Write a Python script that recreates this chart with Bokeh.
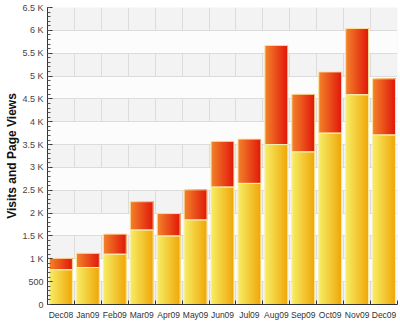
from bokeh.plotting import figure
from bokeh.models import Range1d, FixedTicker, ColumnDataSource
from bokeh.embed import file_html
from bokeh.resources import INLINE

months = ["Dec08", "Jan09", "Feb09", "Mar09", "Apr09", "May09", "Jun09",
          "Jul09", "Aug09", "Sep09", "Oct09", "Nov09", "Dec09"]
visits = [760, 810, 1100, 1630, 1500, 1850, 2570, 2650, 3500, 3340, 3750, 4590, 3710]
page_views = [1010, 1120, 1540, 2250, 1990, 2510, 3570, 3620, 5670, 4600, 5090, 6040, 4940]
y_ticks = [0, 500, 1000, 1500, 2000, 2500, 3000, 3500, 4000, 4500, 5000, 5500, 6000, 6500]
y_tick_labels = ["0", "500", "1 K", "1.5 K", "2 K", "2.5 K", "3 K", "3.5 K",
                 "4 K", "4.5 K", "5 K", "5.5 K", "6 K", "6.5 K"]

FONT = "Liberation Sans"
BAR_W = 0.85
N_STRIPS = 20


def lerp_hex(c1, c2, t):
    a = [int(c1[i:i + 2], 16) for i in (1, 3, 5)]
    b = [int(c2[i:i + 2], 16) for i in (1, 3, 5)]
    return "#%02x%02x%02x" % tuple(int(round(a[k] + (b[k] - a[k]) * t)) for k in range(3))


n = len(months)
p = figure(width=400, height=322, x_range=Range1d(0, n), y_range=Range1d(0, 6500),
           output_backend="svg", toolbar_location=None,
           min_border_left=47, min_border_right=3, min_border_top=7, min_border_bottom=16)
p.background_fill_color = "#f3f3f3"
p.border_fill_color = "white"
p.outline_line_color = None

# gradient strips: each strip runs from its start to the bar's right edge,
# later strips paint over earlier ones (no seams)
sw = BAR_W / N_STRIPS
lefts, rights, pv_top, pv_bot, v_top, pv_cols, v_cols = [], [], [], [], [], [], []
for i in range(n):
    left = i + 0.5 - BAR_W / 2
    for k in range(N_STRIPS):
        t = (k + 0.5) / N_STRIPS
        lefts.append(left + k * sw)
        rights.append(left + BAR_W)
        pv_top.append(page_views[i])
        pv_bot.append(visits[i])
        v_top.append(visits[i])
        pv_cols.append(lerp_hex("#f2842a", "#e2170b", t))
        v_cols.append(lerp_hex("#f6ee66", "#f0a608", t))

src = ColumnDataSource(dict(l=lefts, r=rights, pvt=pv_top, pvb=pv_bot, vt=v_top,
                            pc=pv_cols, vc=v_cols))
p.quad(left="l", right="r", top="pvt", bottom="pvb", fill_color="pc", line_color=None, source=src)
p.quad(left="l", right="r", top="vt", bottom=0, fill_color="vc", line_color=None, source=src)

# light outlines
centers = [i + 0.5 for i in range(n)]
osrc = ColumnDataSource(dict(x=centers, pv=page_views, v=visits))
p.vbar(x="x", width=BAR_W, top="pv", bottom="v", fill_color=None,
       line_color="#fbe0a0", line_width=1, source=osrc)
p.vbar(x="x", width=BAR_W, top="v", bottom=0, fill_color=None,
       line_color="#fbeeb0", line_width=1, source=osrc)

# x axis: labels at centers, ticks at boundaries
p.xaxis.ticker = FixedTicker(ticks=centers, minor_ticks=list(range(n + 1)))
p.xaxis.major_label_overrides = {c: m for c, m in zip(centers, months)}
p.xaxis.major_tick_in = 0
p.xaxis.major_tick_out = 0
p.xaxis.minor_tick_in = 4
p.xaxis.minor_tick_out = 0
p.xaxis.minor_tick_line_color = "#333333"
p.xaxis.axis_line_color = "#333333"
p.xaxis.major_label_text_font = FONT
p.xaxis.major_label_text_font_size = "8.5px"
p.xaxis.major_label_text_color = "#333333"
p.xaxis.major_label_standoff = 5

p.xgrid.ticker = FixedTicker(ticks=list(range(n + 1)))
p.xgrid.grid_line_color = "#dcdcdc"

# y axis
p.yaxis.ticker = FixedTicker(ticks=y_ticks,
                             minor_ticks=list(range(0, 6501, 100)))
p.yaxis.major_label_overrides = {t: l for t, l in zip(y_ticks, y_tick_labels)}
p.yaxis.major_tick_in = 5
p.yaxis.major_tick_out = 0
p.yaxis.minor_tick_in = 3
p.yaxis.minor_tick_out = 0
p.yaxis.major_tick_line_color = "#333333"
p.yaxis.minor_tick_line_color = "#555555"
p.yaxis.axis_line_color = "#333333"
p.yaxis.major_label_text_font = FONT
p.yaxis.major_label_text_font_size = "9px"
p.yaxis.major_label_text_color = "#444444"
p.yaxis.major_label_standoff = 4
p.yaxis.axis_label = "Visits and Page Views"
p.yaxis.axis_label_text_font = FONT
p.yaxis.axis_label_text_font_size = "12px"
p.yaxis.axis_label_text_font_style = "bold"
p.yaxis.axis_label_text_color = "#111111"
p.yaxis.axis_label_standoff = 0

p.ygrid.ticker = FixedTicker(ticks=y_ticks)
p.ygrid.grid_line_color = "#dcdcdc"
p.ygrid.band_fill_color = "#fcfcfc"
p.ygrid.band_fill_alpha = 1.0

open("out.html", "w").write(file_html(p, INLINE))
